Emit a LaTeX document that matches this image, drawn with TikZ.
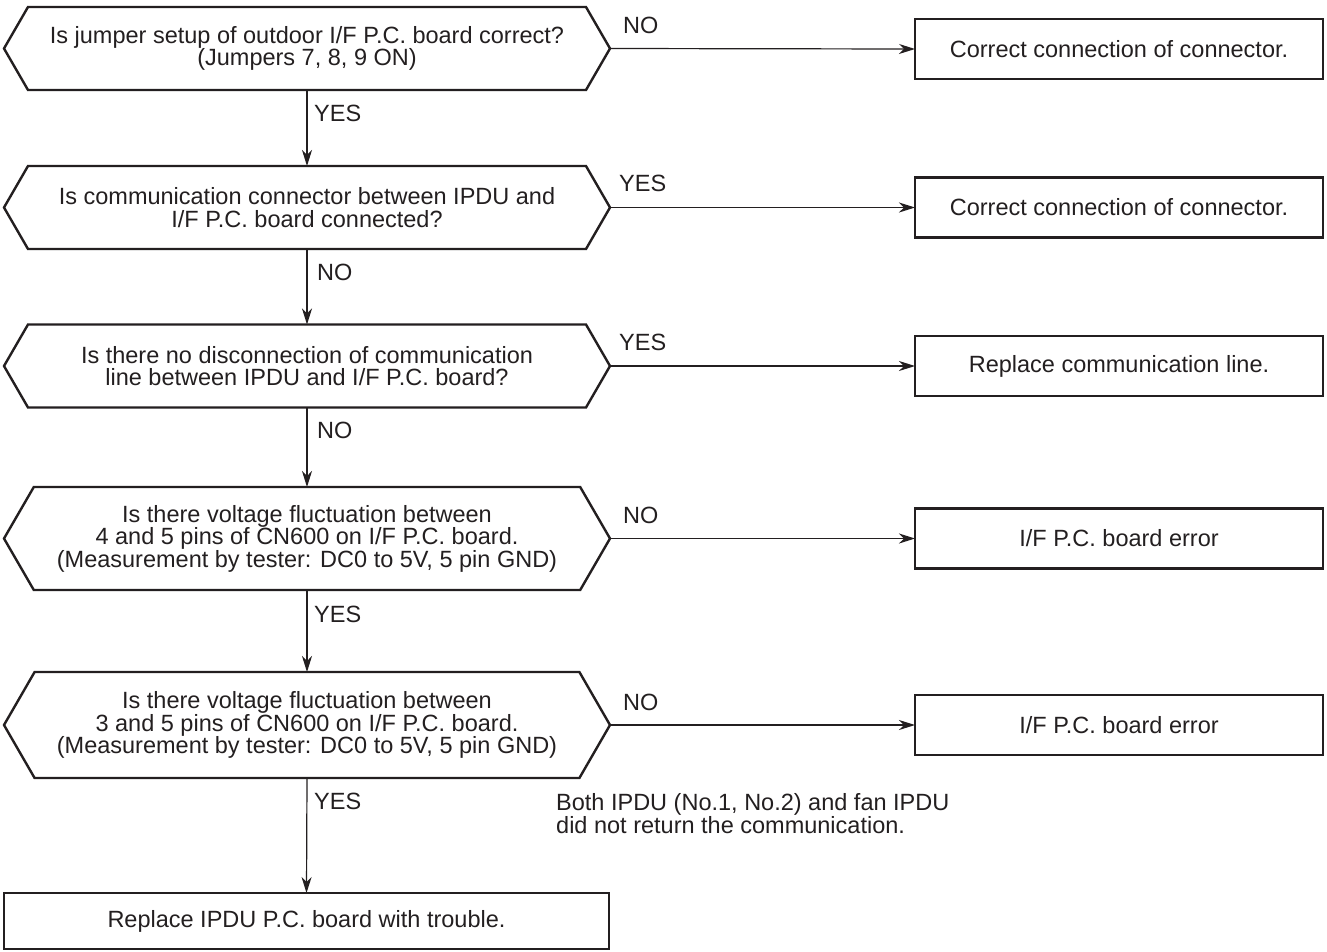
\documentclass[tikz,border=0pt]{standalone}
\usepackage{fontspec}
\setmainfont{Liberation Sans}
\usetikzlibrary{arrows.meta,calc}
\definecolor{ink}{HTML}{231F20}
\newcommand\mainfont{\fontsize{23.5}{22.5}\selectfont}
\tikzset{
  hexbody/.style={inner sep=0pt, outer sep=0pt, align=center, text=ink, font=\mainfont, minimum width=606pt},
  hexline/.style={draw=ink, line width=2.4pt, line join=miter},
  boxnode/.style={draw=ink, line width=2.4pt, inner sep=0pt, outer sep=0pt, minimum width=408pt, minimum height=60pt, align=center, text=ink, font=\mainfont},
  flow/.style={draw=ink, line width=1.2pt, -{Stealth[length=16pt,width=10pt,inset=5pt]}},
  lbl/.style={anchor=west, inner sep=0pt, text=ink, font=\mainfont},
}
\newcommand\hexdraw[2]{\draw[hexline] (#1.west) -- ($(#1.north west)+(#2,0)$) -- ($(#1.north east)+(-#2,0)$) -- (#1.east) -- ($(#1.south east)+(-#2,0)$) -- ($(#1.south west)+(#2,0)$) -- cycle;}
\begin{document}
\begin{tikzpicture}[x=1pt,y=-1pt]
\useasboundingbox (0,0) rectangle (1327,951);
% decision hexagons
\node[hexbody, minimum height=83pt] (h1) at (307,48.5) {Is jumper setup of outdoor I/F P.C. board correct?\\(Jumpers 7, 8, 9 ON)};
\hexdraw{h1}{24}
\node[hexbody, minimum height=83pt] (h2) at (307,207.5) {Is communication connector between IPDU and\\I/F P.C. board connected?};
\hexdraw{h2}{24}
\node[hexbody, minimum height=83pt] (h3) at (307,366) {Is there no disconnection of communication\\line between IPDU and I/F P.C. board?};
\hexdraw{h3}{24}
\node[hexbody, minimum height=103pt] (h4) at (307,538.5) {Is there voltage fluctuation between\\4 and 5 pins of CN600 on I/F P.C. board.\\(Measurement by tester: DC0 to 5V, 5 pin GND)};
\hexdraw{h4}{29.8}
\node[hexbody, minimum height=106pt] (h5) at (307,725) {Is there voltage fluctuation between\\3 and 5 pins of CN600 on I/F P.C. board.\\(Measurement by tester: DC0 to 5V, 5 pin GND)};
\hexdraw{h5}{30.6}
% result boxes
\node[boxnode] (b1) at (1119,49) {Correct connection of connector.};
\node[boxnode] (b2) at (1119,207.5) {Correct connection of connector.};
\node[boxnode] (b3) at (1119,366) {Replace communication line.};
\node[boxnode] (b4) at (1119,538.5) {I/F P.C. board error};
\node[boxnode] (b5) at (1119,725) {I/F P.C. board error};
\node[boxnode, minimum width=605pt, minimum height=56pt] (f) at (306.5,921) {Replace IPDU P.C. board with trouble.};
% connectors
\draw[flow] (h1.east) -- (b1.west);
\draw[flow] (h2.east) -- (b2.west);
\draw[flow] (h3.east) -- (b3.west);
\draw[flow] (h4.east) -- (b4.west);
\draw[flow] (h5.east) -- (b5.west);
\draw[flow] (h1.south) -- (h2.north);
\draw[flow] (h2.south) -- (h3.north);
\draw[flow] (h3.south) -- (h4.north);
\draw[flow] (h4.south) -- (h5.north);
\draw[flow] (h5.south) -- (f.north);
% labels
\node[lbl] (l1r) at ($(h1.east)+(13,-23)$) {NO};
\node[lbl] (l2r) at ($(h2.east)+(9,-24)$) {YES};
\node[lbl] (l3r) at ($(h3.east)+(9,-24)$) {YES};
\node[lbl] (l4r) at ($(h4.east)+(13,-23)$) {NO};
\node[lbl] (l5r) at ($(h5.east)+(13,-23)$) {NO};
\node[lbl] (l1b) at ($(h1.south)+(7,23)$) {YES};
\node[lbl] (l2b) at ($(h2.south)+(10,23)$) {NO};
\node[lbl] (l3b) at ($(h3.south)+(10,23)$) {NO};
\node[lbl] (l4b) at ($(h4.south)+(7,24)$) {YES};
\node[lbl] (l5b) at ($(h5.south)+(7,23)$) {YES};
% note
\node[anchor=west, inner sep=0pt, align=left, text=ink, font=\fontsize{23.5}{19.5}\selectfont] (note) at (556,814) {Both IPDU (No.1, No.2) and fan IPDU\\did not return the communication.};
\end{tikzpicture}
\end{document}
